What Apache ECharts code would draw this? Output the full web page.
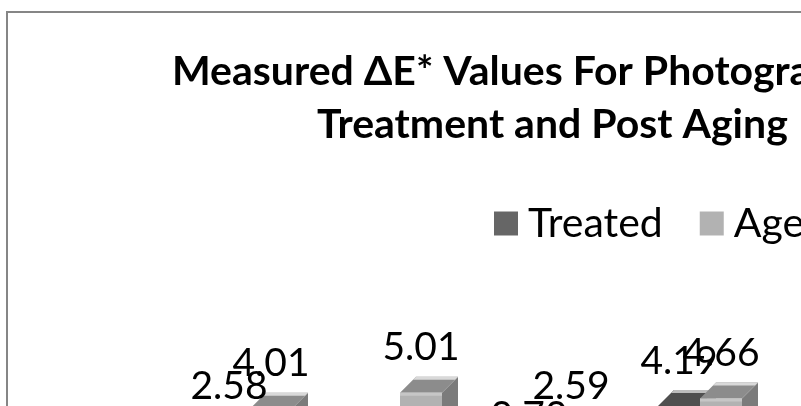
<!DOCTYPE html>
<html>
<head>
<meta charset="utf-8">
<style>
  html, body { margin: 0; padding: 0; width: 801px; height: 406px; overflow: hidden; background: #fff; }
  #frame { position: absolute; left: 6px; top: 11px; width: 1200px; height: 700px; border: 2px solid #868686; box-sizing: border-box; }
  #chart { position: absolute; left: 0; top: 0; width: 1200px; height: 700px; }
</style>
<script src="https://cdn.jsdelivr.net/npm/echarts@6/dist/echarts.min.js"></script>
</head>
<body>
<div id="frame"></div>
<div id="chart"></div>
<script>
  // the reference is a crop of a bigger chart, so the lower part falls outside the window
  var categories = ['1', '2', '3', '4', '5']
  var treated = [2.58, 0.42, 0.70, 4.19, 2.4]
  var aged = [4.01, 5.01, 2.59, 4.66, null]
  var labelsTreated = ['2.58', '0.42', '0.70', '4.19', '2.4']
  var labelsAged = ['4.01', '5.01', '2.59', '4.66', '']

  var font = 'Lato'

  function bar3d(side, front, top, rim, lip, labels) {
    return function (params, api) {
      var v = api.value(1)
      if (v === null || isNaN(v)) return
      var base = api.coord([api.value(0), 0])
      var tip = api.coord([api.value(0), v])
      var w = 42
      var d = 16
      var x0 = side < 0 ? tip[0] - w : tip[0]
      var x1 = x0 + w
      var y = tip[1]
      var y0 = base[1]
      return {
        type: 'group',
        children: [
          { type: 'polygon', shape: { points: [[x1, y], [x1 + d, y - d], [x1 + d, y0 - d], [x1, y0]] }, style: { fill: '#7b7b7b' } },
          { type: 'polygon', shape: { points: [[x0, y], [x0 + d, y - d], [x1 + d, y - d], [x1, y]] }, style: { fill: top } },
          { type: 'polygon', shape: { points: [[x0 + d - 3, y - d + 3], [x0 + d, y - d], [x1 + d, y - d], [x1 + d - 3, y - d + 3]] }, style: { fill: rim } },
          { type: 'rect', shape: { x: x0, y: y, width: w, height: y0 - y }, style: { fill: front } },
          { type: 'rect', shape: { x: x0, y: y, width: w, height: 3 }, style: { fill: lip } },
          {
            type: 'text',
            z2: 50,
            style: {
              text: labels[params.dataIndex],
              x: (x0 + x1) / 2,
              y: y - d - 29,
              align: 'center',
              verticalAlign: 'middle',
              font: '39px ' + font,
              fill: '#000'
            }
          }
        ]
      }
    }
  }

  var chart = echarts.init(document.getElementById('chart'), null, { renderer: 'canvas' })
  chart.setOption({
    animation: false,
    textStyle: { fontFamily: font },
    title: [
      { text: 'Measured ΔE* Values For Photographs', left: 167, top: 46, textStyle: { fontFamily: font, fontSize: 41, fontWeight: 'bold', color: '#000' } },
      { text: 'Treatment and Post Aging E', left: 312, top: 99, textStyle: { fontFamily: font, fontSize: 41, fontWeight: 'bold', color: '#000' } }
    ],
    legend: {
      left: 489,
      top: 198,
      itemWidth: 24,
      itemHeight: 24,
      itemGap: 37,
      icon: 'rect',
      data: ['Treated', 'Aged'],
      textStyle: { fontFamily: font, fontSize: 41, color: '#000', padding: [0, 0, 0, 5] }
    },
    grid: { left: 175, width: 750, top: 377, height: 96 },
    xAxis: { type: 'category', data: categories, show: false },
    yAxis: { type: 'value', min: 0, max: 6, show: false },
    series: [
      {
        name: 'Treated',
        type: 'custom',
        clip: false,
        itemStyle: { color: '#666666' },
        data: categories.map(function (c, i) { return [i, treated[i]] }),
        encode: { x: 0, y: 1 },
        renderItem: bar3d(-1, '#666666', '#4f4f4f', '#bdbdbd', '#707070', labelsTreated)
      },
      {
        name: 'Aged',
        type: 'custom',
        clip: false,
        itemStyle: { color: '#b2b2b2' },
        data: categories.map(function (c, i) { return [i, aged[i]] }),
        encode: { x: 0, y: 1 },
        renderItem: bar3d(1, '#b2b2b2', '#8c8c8c', '#d9d9d9', '#c6c6c6', labelsAged)
      }
    ]
  })
</script>
</body>
</html>
